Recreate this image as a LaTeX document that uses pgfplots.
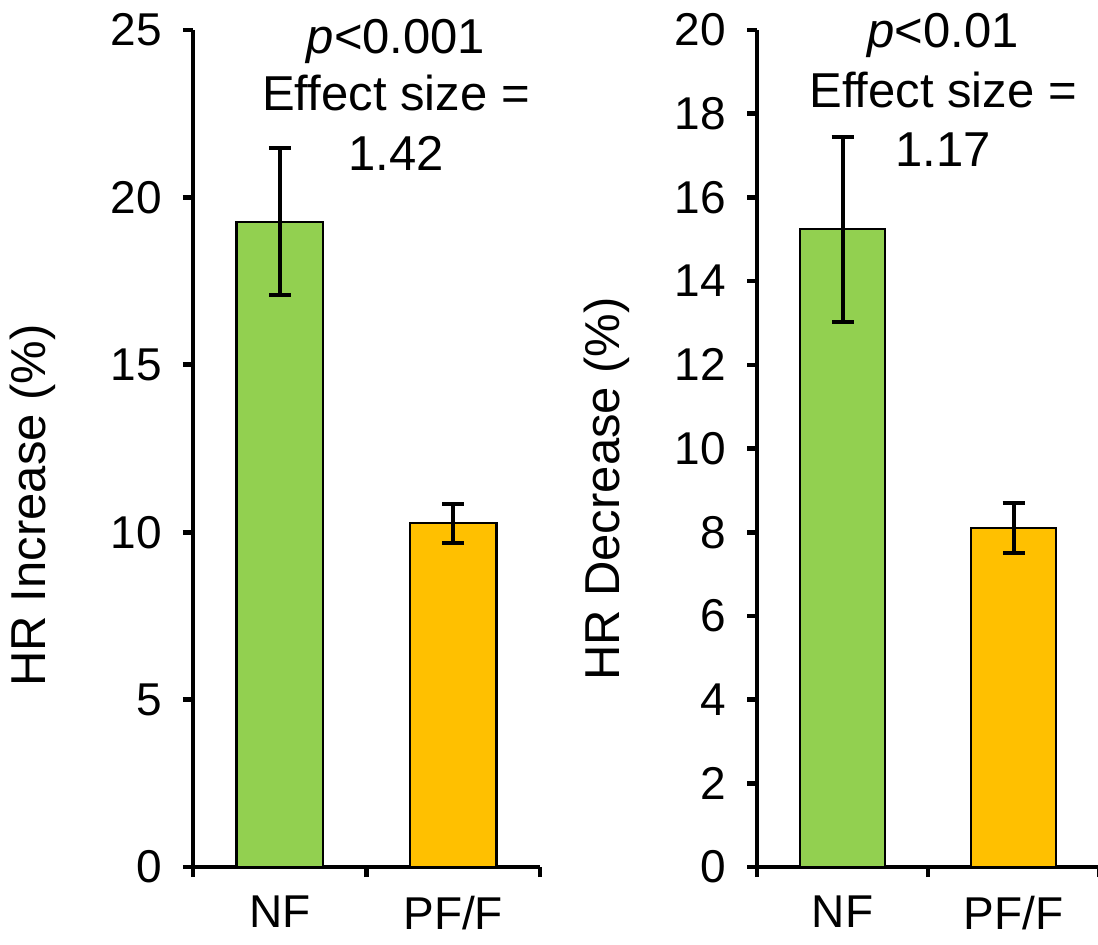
\documentclass[border=0pt]{standalone}
\usepackage{pgfplots}
\pgfplotsset{compat=1.18}
\usepackage{fontspec}
\setmainfont{Liberation Sans}
\definecolor{nfgreen}{HTML}{92D050}
\definecolor{pforange}{HTML}{FFC000}
\tikzset{annot/.style={anchor=base, font=\fontsize{24.5}{29}\selectfont}}
\pgfplotsset{
  common/.style={
    scale only axis,
    anchor=south west,
    clip=false,
    xmin=0, xmax=2, ymin=0,
    axis x line*=bottom,
    axis y line*=left,
    axis line style={line width=2.3pt, black},
    tick align=outside,
    major tick length=5pt,
    tick style={line width=2.3pt, black},
    xtick={0,1,2},
    xticklabels={NF,PF/F},
    x tick label as interval,
    minor tick num=0,
    /pgf/number format/assume math mode=true,
    tick label style={font=\fontsize{23}{27}\selectfont},
    yticklabel style={xshift=-7pt},
    xticklabel style={yshift=-6pt},
    label style={font=\fontsize{24.5}{29}\selectfont},
  },
  bar/.style={ybar, bar shift=0pt, bar width=0.5, draw=black, line width=1.2pt,
    error bars/y dir=both, error bars/y explicit,
    error bars/error bar style={line width=2pt, black},
    error bars/error mark options={rotate=90, mark size=5.5pt, line width=2pt, black}},
}
\begin{document}
\begin{tikzpicture}
\useasboundingbox (0,0) rectangle (549pt,472pt);
\begin{axis}[common,
  at={(96.5pt,38.5pt)}, width=173.5pt, height=418.5pt,
  ymax=25, ytick={0,5,10,15,20,25},
  ylabel={HR Increase (\%)},
  ylabel style={at={(axis description cs:-0.461,0.432)}, anchor=center},
]
\addplot[fill=nfgreen, bar] coordinates {(0.5,19.27) +- (0,2.2)};
\addplot[fill=pforange, bar] coordinates {(1.5,10.27) +- (0,0.58)};
\node[annot] at (axis cs:1.17,24.31) {\textit{p}<0.001};
\node[annot] at (axis cs:1.17,22.61) {Effect size =};
\node[annot] at (axis cs:1.17,20.79) {1.42};
\end{axis}
\begin{axis}[common,
  at={(378.5pt,38.5pt)}, width=171pt, height=418.5pt,
  ymax=20, ytick={0,2,...,20},
  ylabel={HR Decrease (\%)},
  ylabel style={at={(axis description cs:-0.4386,0.4516)}, anchor=center},
]
\addplot[fill=nfgreen, bar] coordinates {(0.5,15.24) +- (0,2.21)};
\addplot[fill=pforange, bar] coordinates {(1.5,8.10) +- (0,0.6)};
\node[annot] at (axis cs:1.088,19.57) {\textit{p}<0.01};
\node[annot] at (axis cs:1.088,18.16) {Effect size =};
\node[annot] at (axis cs:1.088,16.75) {1.17};
\end{axis}
\end{tikzpicture}
\end{document}
